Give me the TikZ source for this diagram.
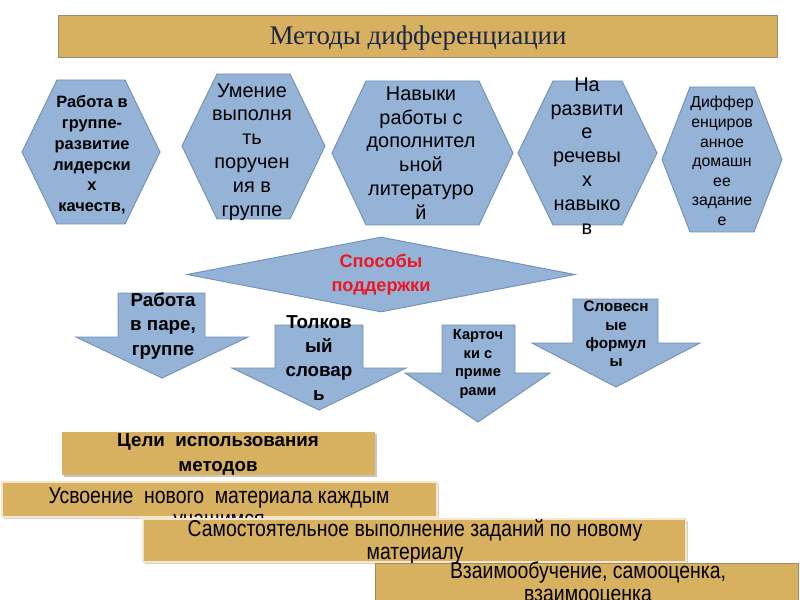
\documentclass[tikz,border=0pt]{standalone}
\usepackage{fontspec}
\setmainfont{Liberation Sans}
\newfontfamily\serifhead{Liberation Serif}
\newfontfamily\narrowsans{Liberation Sans}[FakeStretch=0.85]
\usepackage{tikz}
\usetikzlibrary{shapes.geometric,shadows}
\definecolor{metblue}{HTML}{95B3D7}
\definecolor{metedge}{HTML}{7391B3}
\definecolor{metgold}{HTML}{D8B160}
\definecolor{metrim}{HTML}{9C8C6C}
\definecolor{metglow}{HTML}{F3E8CE}
\definecolor{metnavy}{HTML}{1C2747}
\definecolor{metred}{HTML}{EE1620}

\begin{document}
\begin{tikzpicture}[x=0.3mm,y=-0.3mm]

\tikzset{
blk/.style={fill=metblue,draw=metedge,line width=0.8pt},
gold/.style={fill=metgold},
txt/.style={align=center,inner sep=0pt,text=black},
hexreg/.style={txt,font=\fontsize{17}{20.4}\selectfont},
hexbold/.style={txt,font=\bfseries\fontsize{14}{17.7}\selectfont},
hexsmall/.style={txt,font=\fontsize{13.5}{16.7}\selectfont},
arrbold/.style={txt,font=\bfseries\fontsize{16}{20.6}\selectfont},
arrsmall/.style={txt,font=\bfseries\fontsize{12.5}{16}\selectfont},
goal/.style={txt,font=\narrowsans\fontsize{19.5}{19.6}\selectfont}
}

\useasboundingbox (0,0) rectangle (800,600);
\clip (0,0) rectangle (800,600);

% title
\draw[gold,draw=metrim,line width=0.6pt] (58,15) rectangle (777,57);
\node[txt,text=metnavy,font=\serifhead\fontsize{23}{27}\selectfont] (title) at (418,38) {Методы дифференциации};

% methods
\filldraw[blk] (22,152) -- (57,80) -- (125,80) -- (160,152) -- (125,224) -- (57,224) -- cycle;
\filldraw[blk] (182,146) -- (217,74) -- (290,74) -- (325,146) -- (290,219) -- (217,219) -- cycle;
\filldraw[blk] (332,153) -- (366,81) -- (479,81) -- (513,153) -- (479,225) -- (366,225) -- cycle;
\filldraw[blk] (518,153) -- (553,81) -- (622,81) -- (657,153) -- (622,225) -- (553,225) -- cycle;
\filldraw[blk] (662,159.5) -- (690,87) -- (754,87) -- (782,159.5) -- (754,232) -- (690,232) -- cycle;

\node[hexbold] (groupwork) at (92,155) {Работа в\\группе-\\развитие\\лидерски\\х\\качеств,};
\node[hexreg] (orders) at (252,152) {Умение\\выполня\\ть\\поручен\\ия в\\группе};
\node[hexreg] (reading) at (421,153) {Навыки\\работы с\\дополнител\\ьной\\литературо\\й};
\node[hexreg] (speech) at (587,156) {На\\развити\\е\\речевы\\х\\навыко\\в};
\node[hexsmall] (homework) at (722,161) {Диффер\\енциров\\анное\\домашн\\ее\\задание\\е};

% support
\node[blk,diamond,aspect=5.2,minimum width=116.4mm,minimum height=22.5mm,inner sep=0pt,
  align=center,text=metred,font=\bfseries\fontsize{15.5}{20.4}\selectfont] (support) at (381,274.5) {Способы\\поддержки};

\filldraw[blk] (118,293) -- (205,293) -- (205,337) -- (248,337) -- (162,378) -- (76,337) -- (118,337) -- cycle;
\filldraw[blk] (275,325) -- (363,325) -- (363,368) -- (406,368) -- (319,410) -- (232,368) -- (275,368) -- cycle;
\filldraw[blk] (442,325) -- (515,325) -- (515,373) -- (550,373) -- (478,422) -- (405,373) -- (442,373) -- cycle;
\filldraw[blk] (573,299) -- (658,299) -- (658,343) -- (700,343) -- (616,387) -- (532,343) -- (573,343) -- cycle;

\node[arrbold] (pairs) at (163,326) {Работа\\в паре,\\группе};
\node[arrbold] (glossary) at (319,358) {Толков\\ый\\словар\\ь};
\node[arrsmall] (cards) at (478,364) {Карточ\\ки с\\приме\\рами};
\node[arrsmall,font=\bfseries\fontsize{13}{15.7}\selectfont] (formulas) at (616,334) {Словесн\\ые\\формул\\ы};

% goals
\path[gold,drop shadow={shadow xshift=2pt,shadow yshift=-2pt,opacity=0.45}] (62,432) rectangle (375,475);
\node[txt,font=\bfseries\fontsize{16}{21}\selectfont] (goals) at (218,454.5) {Цели\ \ использования\\методов};

\draw[gold,draw=metglow,line width=1.5pt,drop shadow={shadow xshift=1.5pt,shadow yshift=-1.5pt,opacity=0.35}] (2,482) rectangle (437,517);
\node[goal] (mastery) at (219,509.5) {Усвоение\ \ нового\ \ материала каждым\\учащимся};

\draw[gold,draw=metglow,line width=1.5pt,drop shadow={shadow xshift=1.5pt,shadow yshift=-1.5pt,opacity=0.35}] (143,519) rectangle (686,562);
\node[goal] (selfwork) at (415,541.5) {Самостоятельное выполнение заданий по новому\\материалу};

\draw[gold,draw=metrim,line width=0.8pt] (375,563) rectangle (798,615);
\node[goal] (peer) at (588,583.5) {Взаимообучение, самооценка,\\взаимооценка};

\end{tikzpicture}
\end{document}
